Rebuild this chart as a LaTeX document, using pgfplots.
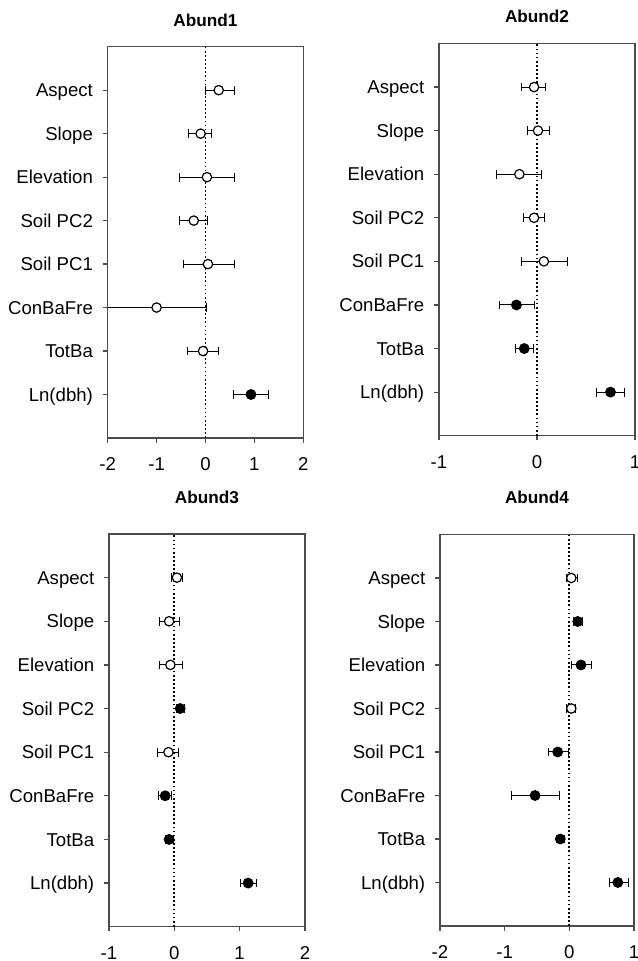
\documentclass[border=0pt]{standalone}
\usepackage{pgfplots}
\pgfplotsset{compat=1.18}
\usepackage{pgfplotstable}
\usepackage{fontspec}
\setmainfont{Liberation Sans}

% columns: y x em ep  (em = x - lower, ep = upper - x)
\pgfplotstableread{
y x em ep
8 0.27 0.28 0.33
7 -0.10 0.24 0.23
6 0.03 0.56 0.57
5 -0.24 0.29 0.29
4 0.05 0.51 0.54
3 -1.00 1.10 1.03
2 -0.05 0.31 0.32
}\AopenA
\pgfplotstableread{
y x em ep
1 0.93 0.35 0.36
}\AfillA

\pgfplotstableread{
y x em ep
8 -0.03 0.13 0.12
7 0.01 0.11 0.12
6 -0.18 0.23 0.23
5 -0.03 0.11 0.11
4 0.07 0.23 0.24
}\AopenB
\pgfplotstableread{
y x em ep
3 -0.21 0.17 0.18
2 -0.13 0.09 0.09
1 0.75 0.14 0.14
}\AfillB

\pgfplotstableread{
y x em ep
8 0.04 0.09 0.08
7 -0.08 0.14 0.16
6 -0.06 0.17 0.19
4 -0.09 0.17 0.16
}\AopenC
\pgfplotstableread{
y x em ep
5 0.09 0.06 0.07
3 -0.14 0.11 0.10
2 -0.08 0.06 0.06
1 1.13 0.12 0.13
}\AfillC

\pgfplotstableread{
y x em ep
8 0.03 0.08 0.09
5 0.03 0.07 0.07
}\AopenD
\pgfplotstableread{
y x em ep
7 0.13 0.06 0.08
6 0.18 0.14 0.16
4 -0.18 0.14 0.16
3 -0.53 0.37 0.38
2 -0.14 0.06 0.06
1 0.75 0.13 0.16
}\AfillD

\definecolor{axgray}{gray}{0.3}

\pgfplotsset{
  forest/.style={
    scale only axis,
    anchor=south west,
    ymin=0, ymax=9,
    ytick={1,...,8},
    yticklabels={Ln(dbh),TotBa,ConBaFre,Soil PC1,Soil PC2,Elevation,Slope,Aspect},
    tick align=outside,
    xtick pos=bottom, ytick pos=left,
    major tick length=2.4pt,
    axis line style={axgray, line width=0.75pt},
    every tick/.style={axgray, line width=0.6pt},
    tick label style={font=\fontsize{9.3}{11}\selectfont, text height=6.6pt, text depth=0pt, inner sep=0pt},
    yticklabel style={anchor=east, xshift=-4.8pt},
    xticklabel style={anchor=north, yshift=-7pt},
    title style={font=\bfseries\fontsize{8.6}{10}\selectfont, anchor=center, at={(0.5,1)}},
    clip=true,
  },
  openpt/.style={only marks, mark=*, mark size=2.35pt,
    mark options={fill=white, draw=black, line width=0.6pt},
    error bars/.cd, x dir=both, x explicit,
    error mark=|,
    error bar style={line width=0.5pt, black},
    error mark options={line width=0.5pt, black, mark size=2.2pt}},
  fillpt/.style={only marks, mark=*, mark size=2.45pt,
    mark options={fill=black, draw=black, line width=0.5pt},
    error bars/.cd, x dir=both, x explicit,
    error mark=|,
    error bar style={line width=0.5pt, black},
    error mark options={line width=0.5pt, black, mark size=2.2pt}},
  zeroline/.style={black, line width=0.85pt, dash pattern=on 0.85pt off 1.2pt, forget plot},
}

\begin{document}
\begin{tikzpicture}
\path[use as bounding box] (0,0) rectangle (318.5pt,480.5pt);

% Abund1
\begin{axis}[forest, at={(53.85pt,261.5pt)}, width=97.8pt, height=195.65pt,
  xmin=-2, xmax=2, xtick={-2,-1,0,1,2}, xticklabels={-2,-1,0,1,2},
  title={Abund1}, title style={yshift=7.4pt}]
\addplot[zeroline] coordinates {(0,0) (0,9)};
\addplot[openpt] table[x=x, y=y, x error minus=em, x error plus=ep] {\AopenA};
\addplot[fillpt] table[x=x, y=y, x error minus=em, x error plus=ep] {\AfillA};
\end{axis}

% Abund2
\begin{axis}[forest, at={(219.5pt,262.65pt)}, width=98pt, height=196.1pt,
  xmin=-1, xmax=1, xtick={-1,0,1}, xticklabels={-1,0,1},
  title={Abund2}, title style={yshift=7.4pt}]
\addplot[zeroline] coordinates {(0,0) (0,9)};
\addplot[openpt] table[x=x, y=y, x error minus=em, x error plus=ep] {\AopenB};
\addplot[fillpt] table[x=x, y=y, x error minus=em, x error plus=ep] {\AfillB};
\end{axis}

% Abund3
\begin{axis}[forest, at={(54.5pt,17.15pt)}, width=98pt, height=196.35pt,
  xmin=-1, xmax=2, xtick={-1,0,1,2}, xticklabels={-1,0,1,2},
  title={Abund3}, title style={yshift=12.5pt}]
\addplot[zeroline] coordinates {(0,0) (0,9)};
\addplot[openpt] table[x=x, y=y, x error minus=em, x error plus=ep] {\AopenC};
\addplot[fillpt] table[x=x, y=y, x error minus=em, x error plus=ep] {\AfillC};
\end{axis}

% Abund4
\begin{axis}[forest, at={(220pt,17.5pt)}, width=97pt, height=195.75pt,
  xmin=-2, xmax=1, xtick={-2,-1,0,1}, xticklabels={-2,-1,0,1},
  title={Abund4}, title style={yshift=12.5pt}]
\addplot[zeroline] coordinates {(0,0) (0,9)};
\addplot[openpt] table[x=x, y=y, x error minus=em, x error plus=ep] {\AopenD};
\addplot[fillpt] table[x=x, y=y, x error minus=em, x error plus=ep] {\AfillD};
\end{axis}
\end{tikzpicture}
\end{document}
